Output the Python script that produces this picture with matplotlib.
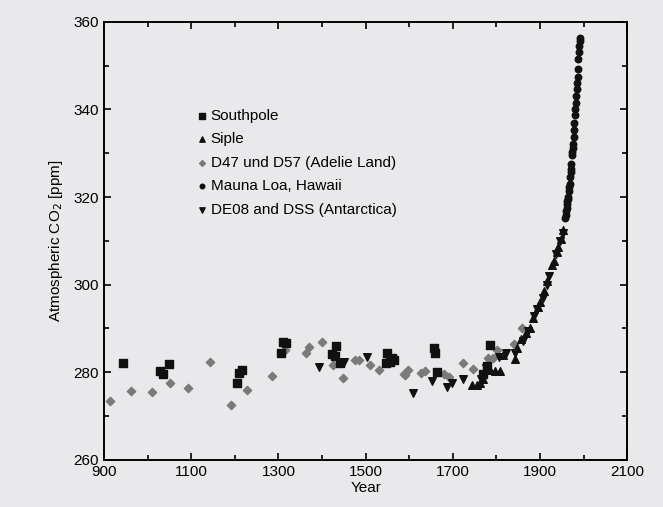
import matplotlib
matplotlib.use('Agg')
import matplotlib.pyplot as plt
from matplotlib.ticker import MultipleLocator

plt.rcParams['font.family'] = ['Liberation Sans', 'DejaVu Sans']

# Southpole ice core (squares)
southpole_year = [944, 1028, 1034, 1050, 1204, 1210, 1216, 1305, 1311, 1317,
                  1422, 1430, 1432, 1441, 1547, 1548, 1556, 1561, 1564,
                  1657, 1659, 1663, 1770, 1778, 1785]
southpole_co2 = [282.1, 280.2, 279.6, 281.9, 277.6, 279.8, 280.5, 284.5, 286.8, 286.6,
                 284.1, 283.7, 285.9, 282.0, 282.1, 284.4, 282.4, 283.2, 282.8,
                 285.5, 284.4, 280.0, 279.5, 281.5, 286.3]

# Siple ice core (triangles up)
siple_year = [1744, 1756, 1762, 1770, 1785, 1797, 1808, 1816, 1843, 1847, 1857,
              1868, 1876, 1884, 1895, 1901, 1910, 1917, 1927, 1932, 1938, 1942,
              1948, 1953]
siple_co2 = [277.0, 277.0, 277.5, 278.5, 280.5, 280.2, 280.2, 284.0, 283.0, 285.5, 287.5,
             288.9, 290.0, 292.3, 294.8, 296.0, 298.5, 300.8, 304.5, 305.5, 307.5, 308.6,
             310.5, 312.5]

# D47 / D57 Adelie Land (grey diamonds)
adelie_year = [914, 962, 1011, 1051, 1093, 1142, 1190, 1227, 1285, 1315, 1363, 1369,
               1399, 1424, 1447, 1476, 1485, 1510, 1531, 1587, 1590, 1598, 1627, 1636,
               1680, 1692, 1724, 1747, 1781, 1793, 1801, 1840, 1858]
adelie_co2 = [273.5, 275.8, 275.6, 277.6, 276.4, 282.3, 272.6, 276.0, 279.2, 285.1, 284.4, 285.7,
              287.0, 281.7, 278.6, 282.8, 282.8, 281.7, 280.5, 279.6, 279.4, 280.5, 279.8, 280.3,
              279.6, 279.0, 282.2, 280.8, 283.2, 283.2, 285.1, 286.5, 290.1]

# Mauna Loa, Hawaii (circles)
mauna_year = list(range(1958, 1993))
mauna_co2 = [315.3, 316.0, 316.9, 317.6, 318.5, 319.0, 319.6, 320.0, 321.4, 322.2,
             323.0, 324.6, 325.7, 326.3, 327.5, 329.7, 330.2, 331.1, 332.1, 333.8,
             335.4, 336.8, 338.7, 340.1, 341.4, 343.0, 344.6, 346.0, 347.4, 349.2,
             351.6, 353.1, 354.4, 355.6, 356.4]

# DE08 and DSS, Antarctica (triangles down)
de08_year = [1394, 1450, 1504, 1609, 1653, 1686, 1697, 1724, 1764, 1776, 1805, 1823,
             1843, 1860, 1872, 1886, 1892, 1906, 1915, 1920, 1937, 1946, 1953]
de08_co2 = [281.1, 282.4, 283.4, 275.2, 278.0, 276.7, 277.5, 278.4, 278.5, 281.0, 283.5, 284.4,
            284.3, 287.2, 289.5, 292.8, 294.5, 297.0, 300.0, 302.0, 307.0, 310.0, 311.8]

x_ticks = list(range(900, 2101, 200))
y_ticks = list(range(260, 361, 20))

bg = '#e9e9eb'
fig = plt.figure(figsize=(6.63, 5.07), dpi=100, facecolor=bg)
ax = fig.add_axes([0.157, 0.093, 0.789, 0.864], facecolor=bg)

ax.scatter(southpole_year, southpole_co2, marker='s', s=30, c='#111111', label='Southpole', zorder=3)
ax.scatter(siple_year, siple_co2, marker='^', s=30, c='#111111', label='Siple', zorder=3)
ax.scatter(adelie_year, adelie_co2, marker='D', s=18, c='#7a7a7a', label='D47 und D57 (Adelie Land)', zorder=2)
ax.scatter(mauna_year, mauna_co2, marker='o', s=22, c='#111111', label='Mauna Loa, Hawaii', zorder=3)
ax.scatter(de08_year, de08_co2, marker='v', s=30, c='#111111', label='DE08 and DSS (Antarctica)', zorder=3)

ax.set_xlim(900, 2100)
ax.set_ylim(260, 360)
ax.set_xticks(x_ticks)
ax.set_yticks(y_ticks)
ax.xaxis.set_minor_locator(MultipleLocator(100))
ax.yaxis.set_minor_locator(MultipleLocator(10))
ax.tick_params(which='both', direction='in', top=True, right=True, labelsize=11, width=1.2)
ax.tick_params(which='major', length=5)
ax.tick_params(which='minor', length=3.5)
for sp in ax.spines.values():
    sp.set_linewidth(1.4)

ax.set_xlabel('Year', fontsize=11, labelpad=2)
ax.set_ylabel('Atmospheric CO$_2$ [ppm]', fontsize=11, labelpad=6)

leg = ax.legend(loc='upper left', bbox_to_anchor=(0.16, 0.815), frameon=False,
                fontsize=11, handletextpad=0.1, labelspacing=0.62,
                markerscale=0.7, handlelength=1.0, borderaxespad=0)

fig.savefig('out.png', dpi=100, facecolor=bg)
